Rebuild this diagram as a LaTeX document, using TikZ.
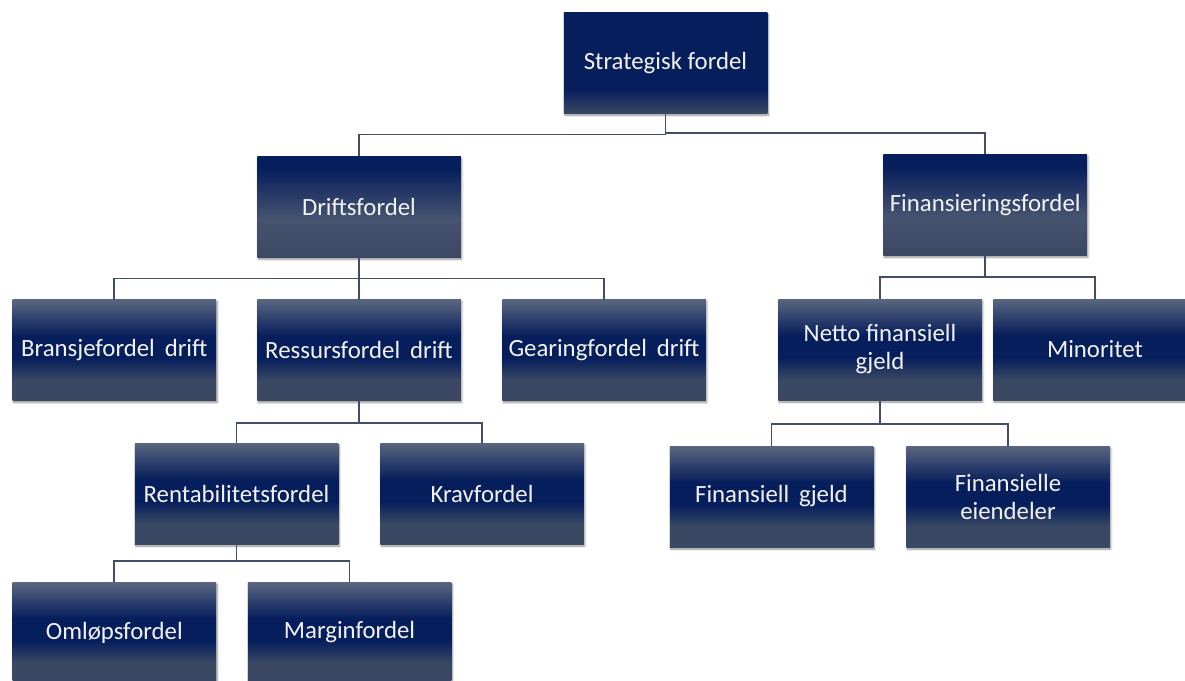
\documentclass[tikz,border=0pt]{standalone}
\usepackage{fontspec}
\setmainfont{Carlito}
\usetikzlibrary{shadows,shadows.blur}

% palette
\definecolor{navy}{RGB}{6,30,92}
\definecolor{slatetop}{RGB}{90,102,128}
\definecolor{slatemid}{RGB}{70,84,112}
\definecolor{slatebot}{RGB}{58,72,100}
\definecolor{wire}{RGB}{66,78,104}
\definecolor{label}{RGB}{242,242,242}

% vertical shadings: 25bp = bottom edge, 75bp = top edge of the box
\pgfdeclareverticalshading{toplevel}{100bp}{%
  color(0bp)=(slatebot); color(25bp)=(slatebot); color(37bp)=(navy);
  color(75bp)=(navy); color(100bp)=(navy)}
\pgfdeclareverticalshading{midlevel}{100bp}{%
  color(0bp)=(slatebot); color(25bp)=(slatebot); color(44bp)=(slatemid);
  color(69bp)=(navy); color(100bp)=(navy)}
\pgfdeclareverticalshading{lowlevel}{100bp}{%
  color(0bp)=(slatebot); color(25bp)=(slatebot); color(35bp)=(slatebot);
  color(46bp)=(navy); color(57bp)=(navy); color(75bp)=(slatetop);
  color(100bp)=(slatetop)}

% slightly widened word gap
\newcommand{\wgap}{\hspace{0.4em}}

\tikzset{
  box/.style={rectangle, minimum width=203.5pt, minimum height=101pt,
    inner sep=0pt, outer sep=0pt, align=center, text=label,
    font=\fontsize{24.8}{28}\selectfont,
    blur shadow={shadow xshift=1pt, shadow yshift=-2pt,
      shadow blur radius=2pt, shadow blur steps=6, shadow opacity=45}},
  topbox/.style={box, shading=toplevel},
  midbox/.style={box, shading=midlevel},
  lowbox/.style={box, shading=lowlevel},
  conn/.style={draw=wire, line width=1.7pt}
}

\begin{document}
\begin{tikzpicture}[x=1pt, y=-1pt]
  \useasboundingbox (0,0) rectangle (1185,680);
  \clip (0,0) rectangle (1185,680);

  % levels of the horizontal bus lines
  \coordinate (busSD) at (0,134.5);
  \coordinate (busSF) at (0,133);
  \coordinate (busD) at (0,278.5);
  \coordinate (busF) at (0,277);
  \coordinate (busR) at (0,422.7);
  \coordinate (busN) at (0,424.3);
  \coordinate (busRe) at (0,561.3);

  % boxes
  \node[topbox] (S) at (665.5,62.75) {Strategisk fordel};

  \node[midbox] (D) at (359,206.7) {Driftsfordel};
  \node[midbox] (F) at (985.2,204.7) {Finansieringsfordel};

  \node[lowbox] (BD) at (114.3,350) {Bransjefordel\wgap drift};
  \node[lowbox] (RD) at (359,350) {Ressursfordel\wgap drift};
  \node[lowbox] (GD) at (604,350) {Gearingfordel\wgap drift};
  \node[lowbox] (NF) at (880,349.5) {Netto finansiell\\gjeld};
  \node[lowbox] (MI) at (1095,349.5) {Minoritet};

  \node[lowbox] (RE) at (236.5,493.5) {Rentabilitetsfordel};
  \node[lowbox] (KR) at (482,493.5) {Kravfordel};
  \node[lowbox] (FG) at (771.5,496.5) {Finansiell\wgap gjeld};
  \node[lowbox] (FE) at (1008,496.5) {Finansielle\\eiendeler};

  \node[lowbox] (OM) at (114.3,632.5) {Omløpsfordel};
  \node[lowbox] (MA) at (349.5,632.5) {Marginfordel};

  % connectors
  \draw[conn] (S.south) -- (S.south |- busSD) -| (D.north);
  \draw[conn] (S.south) -- (S.south |- busSF) -| (F.north);

  \draw[conn] (D.south) -- (D.south |- busD) -| (BD.north);
  \draw[conn] (D.south) -- (RD.north);
  \draw[conn] (D.south |- busD) -| (GD.north);

  \draw[conn] (F.south) -- (F.south |- busF) -| (NF.north);
  \draw[conn] (F.south |- busF) -| (MI.north);

  \draw[conn] (RD.south) -- (RD.south |- busR) -| (RE.north);
  \draw[conn] (RD.south |- busR) -| (KR.north);

  \draw[conn] (NF.south) -- (NF.south |- busN) -| (FG.north);
  \draw[conn] (NF.south |- busN) -| (FE.north);

  \draw[conn] (RE.south) -- (RE.south |- busRe) -| (OM.north);
  \draw[conn] (RE.south |- busRe) -| (MA.north);
\end{tikzpicture}
\end{document}
